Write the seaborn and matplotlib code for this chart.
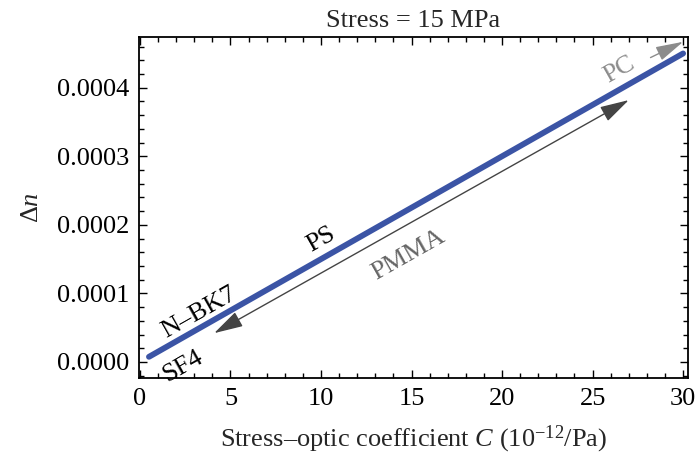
import matplotlib
matplotlib.use("Agg")
import matplotlib.pyplot as plt
import seaborn as sns
import pandas as pd
from matplotlib.ticker import MultipleLocator, FormatStrFormatter

# ---- data ----
stress_coeff = [0.5, 30.0]          # C (1e-12/Pa)
delta_n = [0.0000075, 0.00045]      # birefringence at 15 MPa
x_ticks = [0, 5, 10, 15, 20, 25, 30]
y_ticks = [0.0000, 0.0001, 0.0002, 0.0003, 0.0004]
labels_black = ["N–BK7", "PS", "SF4"]
labels_black_x = [3.25, 10.0, 2.38]
labels_black_y = [0.0000725, 0.000178, -0.0000058]
labels_gray = ["PMMA", "PC"]
labels_gray_x = [14.8, 26.5]
labels_gray_y = [0.000156, 0.000426]
pmma_arrow = [(4.1, 0.0000420), (27.0, 0.000382)]
pc_arrow = [(28.2, 0.000444), (30.0, 0.000467)]

sns.set_style("ticks")
plt.rcParams["font.family"] = ["Liberation Serif", "DejaVu Serif"]
plt.rcParams["mathtext.fontset"] = "custom"
plt.rcParams["mathtext.rm"] = "Liberation Serif"
plt.rcParams["mathtext.it"] = "Liberation Serif:italic"

FS = 19

fig = plt.figure(figsize=(6.96, 4.62), dpi=100)
ax = fig.add_axes([139/696, 1-378/462, (688-139)/696, (378-37)/462])

df = pd.DataFrame({"C": stress_coeff, "dn": delta_n})
sns.lineplot(data=df, x="C", y="dn", ax=ax, color="#3b54a5", linewidth=4.2)

ax.set_xlim(-0.05, 30.27)
ax.set_ylim(-0.0000234, 0.000474)
ax.set_xticks(x_ticks)
ax.set_yticks(y_ticks)
ax.xaxis.set_minor_locator(MultipleLocator(1))
ax.yaxis.set_minor_locator(MultipleLocator(0.00002))
ax.yaxis.set_major_formatter(FormatStrFormatter("%.4f"))
ax.tick_params(which="both", direction="in", top=True, right=True, width=1.0, colors="black")
ax.tick_params(which="major", length=6, labelsize=FS, pad=7)
ax.tick_params(which="minor", length=3.5)
for s in ax.spines.values():
    s.set_linewidth(1.3)
    s.set_color("black")

ax.set_title("Stress = 15 MPa", fontsize=FS, pad=7)
ax.set_xlabel("Stress–optic coefficient $\\mathit{C}$ (10$^{-12}$/Pa)", fontsize=FS, labelpad=10)
ax.set_ylabel("Δ$\\mathit{n}$", fontsize=FS, labelpad=10)

rot = 29.5
for t, x, y in zip(labels_black, labels_black_x, labels_black_y):
    ax.text(x, y, t, rotation=rot, rotation_mode="anchor", ha="center", va="center",
            fontsize=FS, color="black", clip_on=False)
for t, x, y, c in zip(labels_gray, labels_gray_x, labels_gray_y, ["#666666", "#8c8c8c"]):
    ax.text(x, y, t, rotation=rot, rotation_mode="anchor", ha="center", va="center",
            fontsize=FS, color=c)

ax.annotate("", xy=pmma_arrow[1], xytext=pmma_arrow[0],
            arrowprops=dict(arrowstyle="<|-|>,head_length=1.8,head_width=0.5",
                            color="#444444", lw=1.0, shrinkA=0, shrinkB=0))
ax.annotate("", xy=pc_arrow[1], xytext=pc_arrow[0],
            arrowprops=dict(arrowstyle="-|>,head_length=1.7,head_width=0.45",
                            color="#8c8c8c", lw=1.0, shrinkA=0, shrinkB=0),
            annotation_clip=False)

fig.savefig("out.png", dpi=100)
